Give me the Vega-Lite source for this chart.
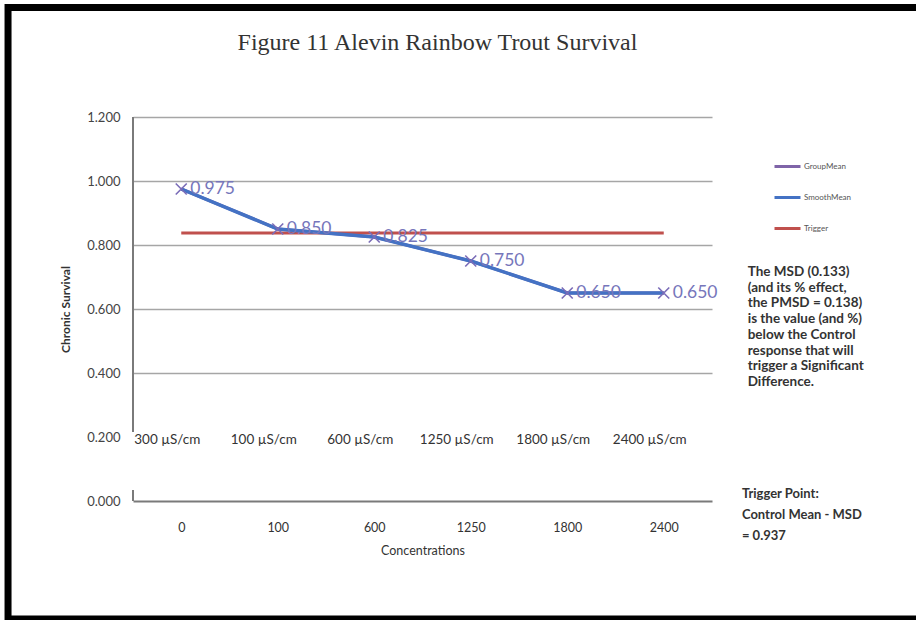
{
  "$schema": "https://vega.github.io/schema/vega-lite/v6.json",
  "width": 579,
  "height": 384,
  "autosize": "none",
  "padding": {"left": 133, "top": 117, "right": 204, "bottom": 119},
  "background": "white",
  "config": {
    "view": {"stroke": null},
    "font": "Lato"
  },
  "data": {
    "values": [
      {"conc": "0", "unit": "300 µS/cm", "series": "GroupMean", "value": 0.975},
      {"conc": "100", "unit": "100 µS/cm", "series": "GroupMean", "value": 0.85},
      {"conc": "600", "unit": "600 µS/cm", "series": "GroupMean", "value": 0.825},
      {"conc": "1250", "unit": "1250 µS/cm", "series": "GroupMean", "value": 0.75},
      {"conc": "1800", "unit": "1800 µS/cm", "series": "GroupMean", "value": 0.65},
      {"conc": "2400", "unit": "2400 µS/cm", "series": "GroupMean", "value": 0.65},
      {"conc": "0", "unit": "300 µS/cm", "series": "SmoothMean", "value": 0.975},
      {"conc": "100", "unit": "100 µS/cm", "series": "SmoothMean", "value": 0.85},
      {"conc": "600", "unit": "600 µS/cm", "series": "SmoothMean", "value": 0.825},
      {"conc": "1250", "unit": "1250 µS/cm", "series": "SmoothMean", "value": 0.75},
      {"conc": "1800", "unit": "1800 µS/cm", "series": "SmoothMean", "value": 0.65},
      {"conc": "2400", "unit": "2400 µS/cm", "series": "SmoothMean", "value": 0.65},
      {"conc": "0", "unit": "300 µS/cm", "series": "Trigger", "value": 0.8375},
      {"conc": "100", "unit": "100 µS/cm", "series": "Trigger", "value": 0.8375},
      {"conc": "600", "unit": "600 µS/cm", "series": "Trigger", "value": 0.8375},
      {"conc": "1250", "unit": "1250 µS/cm", "series": "Trigger", "value": 0.8375},
      {"conc": "1800", "unit": "1800 µS/cm", "series": "Trigger", "value": 0.8375},
      {"conc": "2400", "unit": "2400 µS/cm", "series": "Trigger", "value": 0.8375}
    ]
  },
  "resolve": {"scale": {"x": "independent", "y": "independent"}},
  "layer": [
    {
      "encoding": {
        "x": {
          "field": "conc",
          "type": "ordinal",
          "sort": ["0", "100", "600", "1250", "1800", "2400"],
          "scale": {"paddingInner": 0, "paddingOuter": 0},
          "axis": {
            "title": "Concentrations",
            "titleFontSize": 12.5,
            "titleFontWeight": "normal",
            "titleColor": "#333333",
            "titlePadding": 11,
            "labelAngle": 0,
            "labelFontSize": 12.5,
            "labelColor": "#333333",
            "labelPadding": 20,
            "ticks": false,
            "domain": true,
            "domainColor": "#7a7a7a",
            "domainWidth": 2,
            "grid": false
          }
        },
        "y": {
          "field": "value",
          "type": "quantitative",
          "scale": {"domain": [0, 1.2], "nice": false},
          "axis": {
            "title": "Chronic Survival",
            "titleFontSize": 12,
            "titleFontWeight": "bold",
            "titleColor": "#333333",
            "titlePadding": 14,
            "values": [0, 0.2, 0.4, 0.6, 0.8, 1.0, 1.2],
            "format": ".3f",
            "labelFontSize": 13,
            "labelColor": "#444444",
            "labelPadding": 13,
            "ticks": false,
            "domain": false,
            "grid": true,
            "gridWidth": 1.5,
            "gridColor": {"condition": {"test": "datum.value < 0.3", "value": "transparent"}, "value": "#a6a6a6"}
          }
        }
      },
      "layer": [
        {
          "transform": [{"filter": "datum.series === 'GroupMean'"}],
          "mark": {"type": "line", "strokeWidth": 3},
          "encoding": {
            "color": {
              "field": "series",
              "type": "nominal",
              "scale": {"domain": ["GroupMean", "SmoothMean", "Trigger"], "range": ["#7f64a8", "#4472c4", "#c0504d"]},
              "legend": {
                "title": null,
                "orient": "none",
                "legendX": 640,
                "legendY": 35,
                "symbolType": "stroke",
                "symbolSize": 676,
                "symbolStrokeWidth": 3,
                "labelFontSize": 8,
                "labelColor": "#555555",
                "labelOffset": 2,
                "rowPadding": 10
              }
            }
          }
        },
        {
          "transform": [{"filter": "datum.series === 'Trigger'"}],
          "mark": {"type": "line", "strokeWidth": 3},
          "encoding": {"color": {"field": "series", "type": "nominal"}}
        },
        {
          "transform": [{"filter": "datum.series === 'SmoothMean'"}],
          "mark": {"type": "line", "strokeWidth": 3.5},
          "encoding": {"color": {"field": "series", "type": "nominal"}}
        },
        {
          "transform": [{"filter": "datum.series === 'GroupMean'"}],
          "mark": {"type": "point", "shape": "M-1,-1L1,1M-1,1L1,-1", "filled": false, "size": 121, "strokeWidth": 1.6, "color": "#7a6cb8", "opacity": 1}
        },
        {
          "transform": [{"filter": "datum.series === 'GroupMean'"}],
          "mark": {"type": "text", "align": "left", "baseline": "middle", "dx": 9, "fontSize": 17.5, "color": "#7676bb"},
          "encoding": {"text": {"field": "value", "type": "quantitative", "format": ".3f"}}
        },
        {
          "transform": [{"filter": "datum.series === 'GroupMean'"}],
          "mark": {"type": "text", "align": "center", "baseline": "middle", "dx": -14, "fontSize": 13.5, "color": "#333333"},
          "encoding": {
            "y": {"datum": 0.19},
            "text": {"field": "unit", "type": "nominal"}
          }
        }
      ]
    },
    {
      "encoding": {
        "x": {"field": "ax", "type": "quantitative", "scale": {"domain": [0, 6], "nice": false, "zero": false}, "axis": null},
        "y": {"field": "ay", "type": "quantitative", "scale": {"domain": [0, 1.2], "nice": false, "zero": false}, "axis": null}
      },
      "layer": [
        {
          "data": {"values": [
            {"ax": 0, "ay": 0.216, "ay2": 1.2},
            {"ax": 0, "ay": 0, "ay2": 0.034}
          ]},
          "mark": {"type": "rule", "color": "#7a7a7a", "strokeWidth": 2},
          "encoding": {"y2": {"field": "ay2"}}
        },
        {
          "data": {"values": [
            {"ax": -1.295, "ax2": 8.2, "ay": -0.369, "ay2": 1.542}
          ]},
          "mark": {"type": "rect", "fill": null, "fillOpacity": 0, "stroke": "black", "strokeWidth": 7},
          "encoding": {"x2": {"field": "ax2"}, "y2": {"field": "ay2"}}
        },
        {
          "data": {"values": [
            {"ax": 3.155, "ay": 1.41, "note": "Figure 11 Alevin Rainbow Trout Survival"}
          ]},
          "mark": {"type": "text", "align": "center", "baseline": "alphabetic", "font": "Liberation Serif", "fontSize": 24, "color": "#333333"},
          "encoding": {"text": {"field": "note", "type": "nominal"}}
        },
        {
          "data": {"values": [
            {"ax": 6.37, "ay": 0.7375, "note": "The MSD (0.133)\n(and its % effect,\nthe PMSD = 0.138)\nis the value (and %)\nbelow the Control\nresponse that will\ntrigger a Significant\nDifference."}
          ]},
          "mark": {"type": "text", "align": "left", "baseline": "top", "lineBreak": "\n", "lineHeight": 15.7, "fontSize": 13.5, "fontWeight": "bold", "color": "#333333"},
          "encoding": {"text": {"field": "note", "type": "nominal"}}
        },
        {
          "data": {"values": [
            {"ax": 6.31, "ay": 0.04, "note": "Trigger Point:\nControl Mean - MSD\n= 0.937"}
          ]},
          "mark": {"type": "text", "align": "left", "baseline": "top", "lineBreak": "\n", "lineHeight": 21, "fontSize": 13, "fontWeight": "bold", "color": "#333333"},
          "encoding": {"text": {"field": "note", "type": "nominal"}}
        }
      ]
    }
  ]
}
